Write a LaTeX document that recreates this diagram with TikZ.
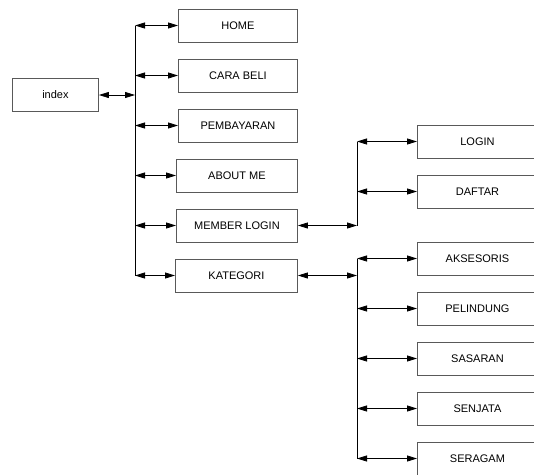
\documentclass[tikz,border=0pt]{standalone}
\usepackage{fontspec}
\setmainfont{Liberation Sans}
\usetikzlibrary{arrows.meta}
\begin{document}
\begin{tikzpicture}[x=1pt,y=-1pt,
  box/.style={draw=black!65,line width=0.9pt,minimum height=33pt,inner sep=0pt,anchor=west,font=\fontsize{11}{13}\selectfont},
  wbox/.style={box,minimum width=120pt},
  trunk/.style={draw=black,line width=1pt},
  biarrow/.style={draw=black,line width=0.8pt,{Triangle[length=10pt,width=6pt]}-{Triangle[length=10pt,width=6pt]}}]
\useasboundingbox (0,0) rectangle (534,474);
\clip (0,0) rectangle (534,474);
% level 0
\node[box,minimum width=86pt] (index) at (12,95) {index};
% level 1
\node[box,minimum width=119pt] (home) at (178,25.5) {HOME};
\node[box,minimum width=119pt] (cara) at (178,75.5) {CARA BELI};
\node[box,minimum width=119pt] (bayar) at (178,125.5) {PEMBAYARAN};
\node[box,minimum width=121pt] (about) at (176,175.5) {ABOUT ME};
\node[box,minimum width=121pt] (member) at (176,225.5) {MEMBER LOGIN};
\node[box,minimum width=122pt] (kat) at (175,275.5) {KATEGORI};
% level 2
\node[wbox] (login) at (417,141.5) {LOGIN};
\node[wbox] (daftar) at (417,191.5) {DAFTAR};
\node[wbox] (akses) at (417,258.5) {AKSESORIS};
\node[wbox] (pelin) at (417,308.5) {PELINDUNG};
\node[wbox] (sasar) at (417,358.5) {SASARAN};
\node[wbox] (senja) at (417,408.5) {SENJATA};
\node[wbox] (serag) at (417,458.5) {SERAGAM};
% trunks
\coordinate (t1) at (135,95);
\coordinate (t2) at (357,225.5);
\coordinate (t3) at (357,275.5);
\draw[trunk] (home.west -| t1) -- (kat.west -| t1);
\draw[trunk] (login.west -| t2) -- (t2);
\draw[trunk] (akses.west -| t3) -- (serag.west -| t3);
% arrows
\draw[biarrow] (index.east) -- (t1);
\foreach \n in {home,cara,bayar,about,member,kat}
  \draw[biarrow] (\n.west -| t1) -- (\n.west);
\draw[biarrow] (member.east) -- (t2);
\draw[biarrow] (kat.east) -- (t3);
\foreach \n in {login,daftar}
  \draw[biarrow] (\n.west -| t2) -- (\n.west);
\foreach \n in {akses,pelin,sasar,senja,serag}
  \draw[biarrow] (\n.west -| t3) -- (\n.west);
\end{tikzpicture}
\end{document}
